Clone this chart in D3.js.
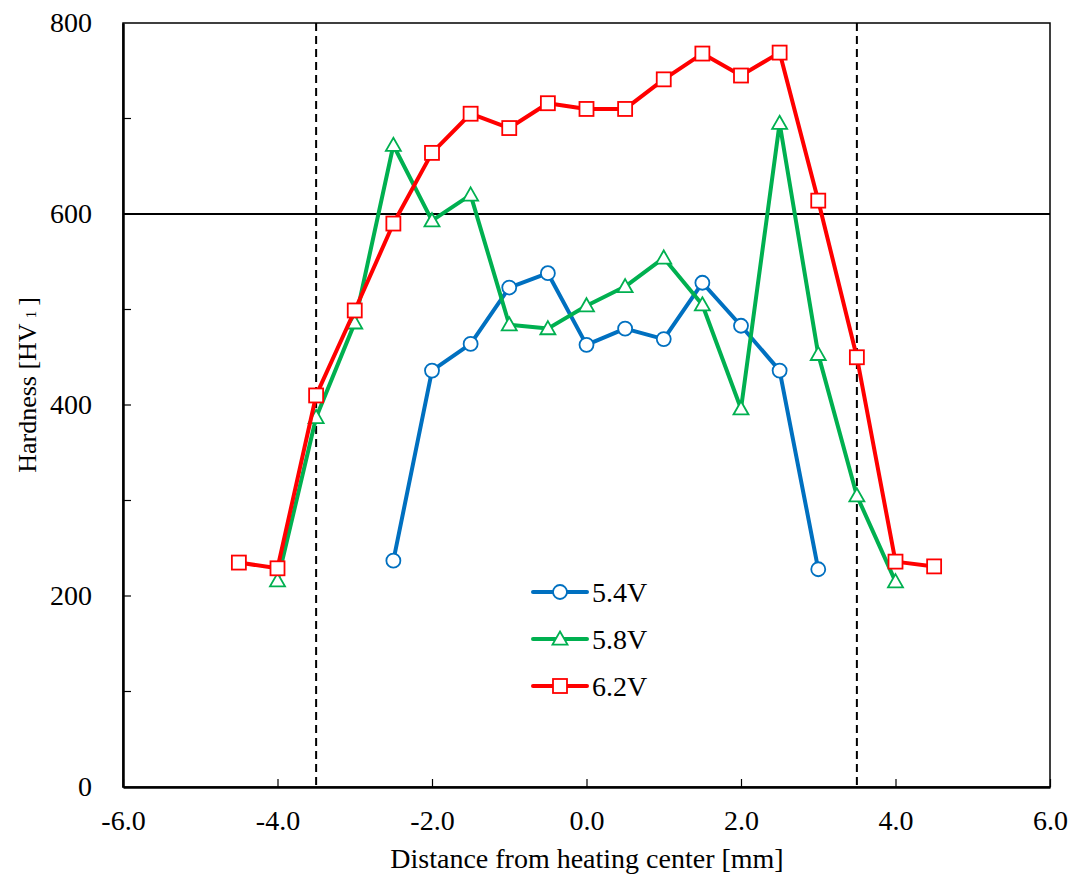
<!DOCTYPE html>
<html>
<head>
<meta charset="utf-8">
<script src="https://cdn.jsdelivr.net/npm/d3@7"></script>
<style>
  body { margin: 0; background: #fff; }
  text { font-family: "Liberation Serif", "Times New Roman", serif; fill: #000; }
</style>
</head>
<body>
<script>
// data
var xs62 = [-4.5, -4.0, -3.5, -3.0, -2.5, -2.0, -1.5, -1.0, -0.5, 0.0, 0.5, 1.0, 1.5, 2.0, 2.5, 3.0, 3.5, 4.0, 4.5];
var hv62 = [235, 229, 410, 499, 590, 664, 705, 690, 716, 710, 710, 741, 768, 745, 769, 614, 450, 236, 231];

var xs58 = [-4.0, -3.5, -3.0, -2.5, -2.0, -1.5, -1.0, -0.5, 0.0, 0.5, 1.0, 1.5, 2.0, 2.5, 3.0, 3.5, 4.0];
var hv58 = [216, 387, 486, 672, 593, 620, 484, 480, 504, 524, 554, 505, 396, 695, 453, 305, 215];

var xs54 = [-2.5, -2.0, -1.5, -1.0, -0.5, 0.0, 0.5, 1.0, 1.5, 2.0, 2.5, 3.0];
var hv54 = [237, 436, 464, 523, 538, 463, 480, 469, 528, 483, 436, 228];

var seriesNames = ['5.4V', '5.8V', '6.2V'];
var xTicks = [-6, -4, -2, 0, 2, 4, 6];
var yTicks = [0, 200, 400, 600, 800];
var yMinor = [100, 300, 500, 700];
var limitHV = 600;
var zoneEdges = [-3.5, 3.5];

var svgWidth = 1069, svgHeight = 878;
var margin = { top: 23, left: 123, right: 19, bottom: 91 };
var chartWidth = svgWidth - margin.left - margin.right;
var chartHeight = svgHeight - margin.top - margin.bottom;
var serif = '"Liberation Serif", "Times New Roman", serif';

var svg = d3.select('body').append('svg')
  .attr('width', svgWidth)
  .attr('height', svgHeight);

var chart = svg.append('g')
  .attr('transform', 'translate(' + margin.left + ',' + margin.top + ')');

var x = d3.scaleLinear().domain([-6, 6]).range([0, chartWidth]);
var y = d3.scaleLinear().domain([0, 800]).range([chartHeight, 0]);

// frame
chart.append('rect')
  .attr('width', chartWidth).attr('height', chartHeight)
  .attr('fill', 'none').attr('stroke', '#000').attr('stroke-width', 1.5);

// axes with inward ticks
var bottomAxis = d3.axisBottom(x).tickValues(xTicks).tickSizeInner(-8).tickSizeOuter(0)
  .tickFormat(function(d){ return d.toFixed(1); });
var gx = chart.append('g').attr('transform', 'translate(0,' + chartHeight + ')').call(bottomAxis)
  .attr('font-family', serif).attr('font-size', 28);
gx.select('.domain').attr('stroke-width', 2.5);
gx.selectAll('.tick line').attr('stroke-width', 1.2);
gx.selectAll('text').attr('y', 23).attr('dy', '0.71em');

var leftAxis = d3.axisLeft(y).tickValues(yTicks).tickSizeInner(0).tickSizeOuter(0).tickPadding(31);
var gy = chart.append('g').call(leftAxis)
  .attr('font-family', serif).attr('font-size', 28);
gy.select('.domain').attr('stroke-width', 2.5);

chart.append('g').selectAll('line')
  .data(yTicks.concat(yMinor).filter(function(d){ return d > 0 && d < 800; }))
  .enter().append('line')
  .attr('x1', 0).attr('x2', 8)
  .attr('y1', function(d){ return y(d); }).attr('y2', function(d){ return y(d); })
  .attr('stroke', '#000').attr('stroke-width', 1.2);

// reference lines
chart.append('line')
  .attr('x1', 0).attr('x2', chartWidth)
  .attr('y1', y(limitHV)).attr('y2', y(limitHV))
  .attr('stroke', '#000').attr('stroke-width', 2);

chart.selectAll('.zone').data(zoneEdges).enter().append('line')
  .attr('class', 'zone')
  .attr('x1', function(d){ return x(d); }).attr('x2', function(d){ return x(d); })
  .attr('y1', 0).attr('y2', chartHeight)
  .attr('stroke', '#000').attr('stroke-width', 2).attr('stroke-dasharray', '8,5');

// series
var series = [
  { name: seriesNames[0], xs: xs54, ys: hv54, color: '#0070C0', shape: 'circle' },
  { name: seriesNames[1], xs: xs58, ys: hv58, color: '#00B050', shape: 'triangle' },
  { name: seriesNames[2], xs: xs62, ys: hv62, color: '#FF0000', shape: 'square' }
];

function drawMarker(g, shape, color, cx, cy) {
  if (shape === 'circle') {
    g.append('circle').attr('cx', cx).attr('cy', cy).attr('r', 7)
      .attr('fill', '#fff').attr('stroke', color).attr('stroke-width', 1.8);
  } else if (shape === 'triangle') {
    var s = 7.5;
    g.append('path')
      .attr('d', 'M' + cx + ',' + (cy - s) + 'L' + (cx + s) + ',' + (cy + s * 0.75) + 'L' + (cx - s) + ',' + (cy + s * 0.75) + 'Z')
      .attr('fill', '#fff').attr('stroke', color).attr('stroke-width', 1.8);
  } else {
    g.append('rect').attr('x', cx - 7).attr('y', cy - 7).attr('width', 14).attr('height', 14)
      .attr('fill', '#fff').attr('stroke', color).attr('stroke-width', 1.8);
  }
}

var line = d3.line()
  .x(function(d){ return x(d[0]); })
  .y(function(d){ return y(d[1]); });

series.forEach(function(s){
  var pts = s.xs.map(function(v, i){ return [v, s.ys[i]]; });
  chart.append('path').datum(pts)
    .attr('d', line).attr('fill', 'none')
    .attr('stroke', s.color).attr('stroke-width', 4).attr('stroke-linejoin', 'round');
  var gm = chart.append('g');
  pts.forEach(function(p){ drawMarker(gm, s.shape, s.color, x(p[0]), y(p[1])); });
});

// legend
var legend = svg.append('g').attr('transform', 'translate(533,592)');
series.forEach(function(s, i){
  var ly = i * 47;
  legend.append('line').attr('x1', 0).attr('x2', 54).attr('y1', ly).attr('y2', ly)
    .attr('stroke', s.color).attr('stroke-width', 4).attr('stroke-linecap', 'round');
  drawMarker(legend, s.shape, s.color, 27, ly);
  legend.append('text').attr('x', 59).attr('y', ly).attr('dy', '0.35em')
    .style('font-size', '28px').text(s.name);
});

// axis titles
svg.append('text')
  .attr('x', 587).attr('y', 868)
  .attr('text-anchor', 'middle').style('font-size', '28px')
  .text('Distance from heating center [mm]');

var yt = svg.append('text')
  .attr('transform', 'translate(36,385) rotate(-90)')
  .attr('text-anchor', 'middle').style('font-size', '26px');
yt.append('tspan').text('Hardness [HV');
yt.append('tspan').style('font-size', '15px').attr('dx', 5).text('1');
yt.append('tspan').attr('dx', 5).text(']');
</script>
</body>
</html>
